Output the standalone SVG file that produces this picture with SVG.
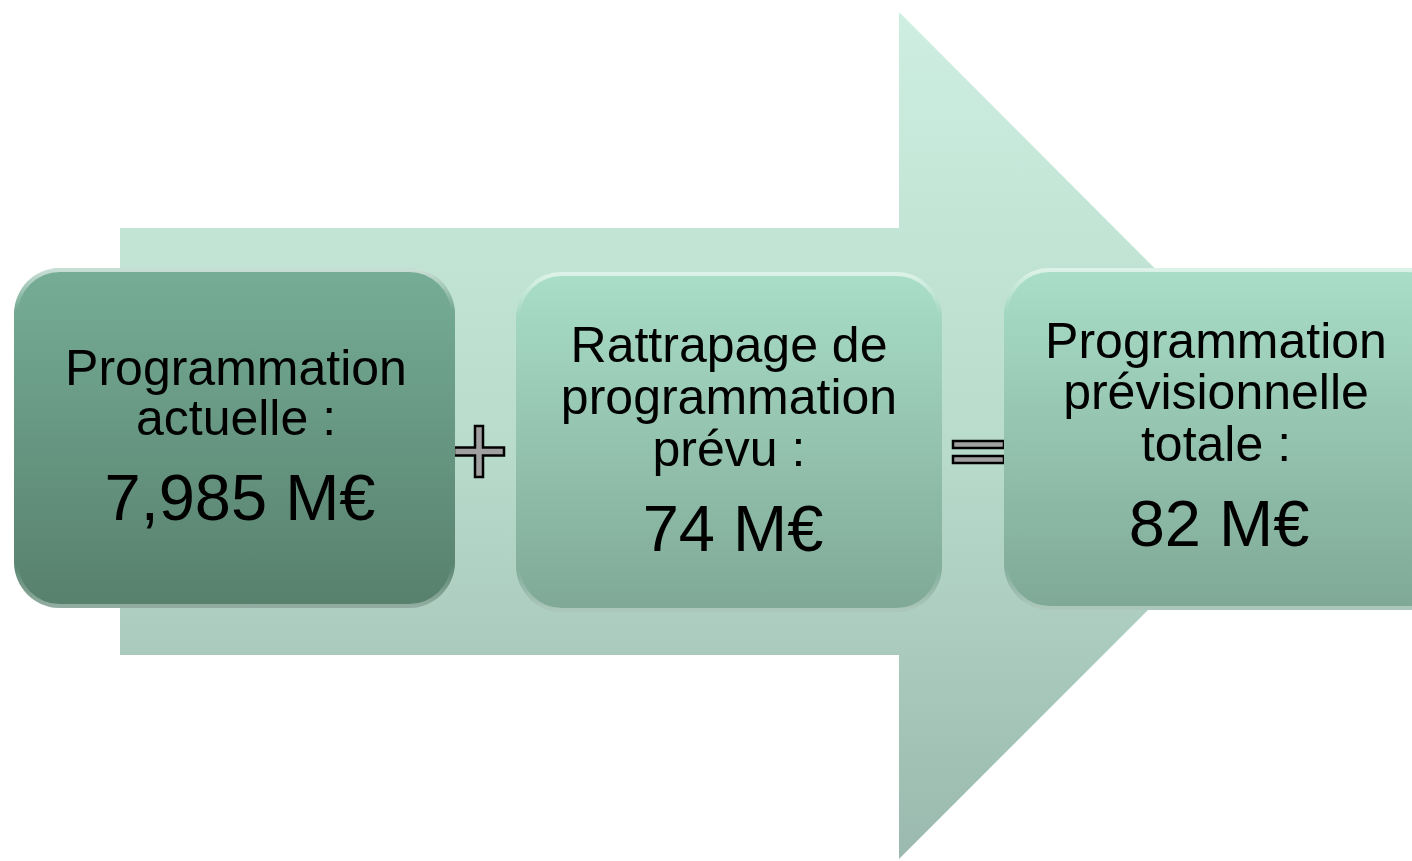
<svg xmlns="http://www.w3.org/2000/svg" width="1412" height="861" viewBox="0 0 1412 861">
<defs>
<linearGradient id="gArrow" x1="0" y1="0" x2="0" y2="1">
<stop offset="0" stop-color="#cdeee0"/>
<stop offset="0.5" stop-color="#b9dccd"/>
<stop offset="1" stop-color="#9bb9ae"/>
</linearGradient>
<linearGradient id="gB1" x1="0" y1="0" x2="0" y2="1">
<stop offset="0" stop-color="#76ad97"/>
<stop offset="1" stop-color="#57806d"/>
</linearGradient>
<linearGradient id="gB2" x1="0" y1="0" x2="0" y2="1">
<stop offset="0" stop-color="#a9dec8"/>
<stop offset="1" stop-color="#7fa897"/>
</linearGradient>
<linearGradient id="gHi" x1="0" y1="0" x2="0" y2="1">
<stop offset="0" stop-color="#ffffff" stop-opacity="0.6"/>
<stop offset="0.12" stop-color="#ffffff" stop-opacity="0"/>
<stop offset="0.88" stop-color="#ffffff" stop-opacity="0"/>
<stop offset="1" stop-color="#ffffff" stop-opacity="0.35"/>
</linearGradient>
</defs>
<style>
text{font-family:"Liberation Sans",Arial,sans-serif;fill:#000;text-anchor:middle}
.t{font-size:50px}
.v{font-size:65px}
.hi{fill:none;stroke:url(#gHi);stroke-width:4}
.sym{fill:#a0a0a0;stroke:#000;stroke-width:2.5}
</style>
<g id="arrow">
<path d="M120 228 L899 228 L899 12 L1322 436 L899 859 L899 655 L120 655 Z" fill="url(#gArrow)"/>
</g>
<g id="connectors">
<path class="sym" d="M475 426 L483 426 L483 447.5 L504 447.5 L504 455.5 L483 455.5 L483 477 L475 477 L475 455.5 L454 455.5 L454 447.5 L475 447.5 Z"/>
<rect class="sym" x="953" y="441" width="51" height="7"/>
<rect class="sym" x="953" y="456" width="51" height="7"/>
</g>
<g id="node1">
<rect x="14" y="268" width="441" height="340" rx="46" fill="url(#gB1)"/>
<rect class="hi" x="16" y="270" width="437" height="336" rx="44"/>
<text class="t" x="236" y="385">Programmation</text>
<text class="t" x="236" y="435">actuelle :</text>
<text class="v" x="240" y="520">7,985 M€</text>
</g>
<g id="node2">
<rect x="516" y="272" width="426" height="340" rx="46" fill="url(#gB2)"/>
<rect class="hi" x="518" y="274" width="422" height="336" rx="44"/>
<text class="t" x="729" y="362">Rattrapage de</text>
<text class="t" x="729" y="414">programmation</text>
<text class="t" x="729" y="466">prévu :</text>
<text class="v" x="733" y="551">74 M€</text>
</g>
<g id="node3">
<rect x="1004" y="268" width="450" height="342" rx="46" fill="url(#gB2)"/>
<rect class="hi" x="1006" y="270" width="446" height="338" rx="44"/>
<text class="t" x="1216" y="358">Programmation</text>
<text class="t" x="1216" y="409">prévisionnelle</text>
<text class="t" x="1216" y="461">totale :</text>
<text class="v" x="1219" y="546">82 M€</text>
</g>
</svg>
